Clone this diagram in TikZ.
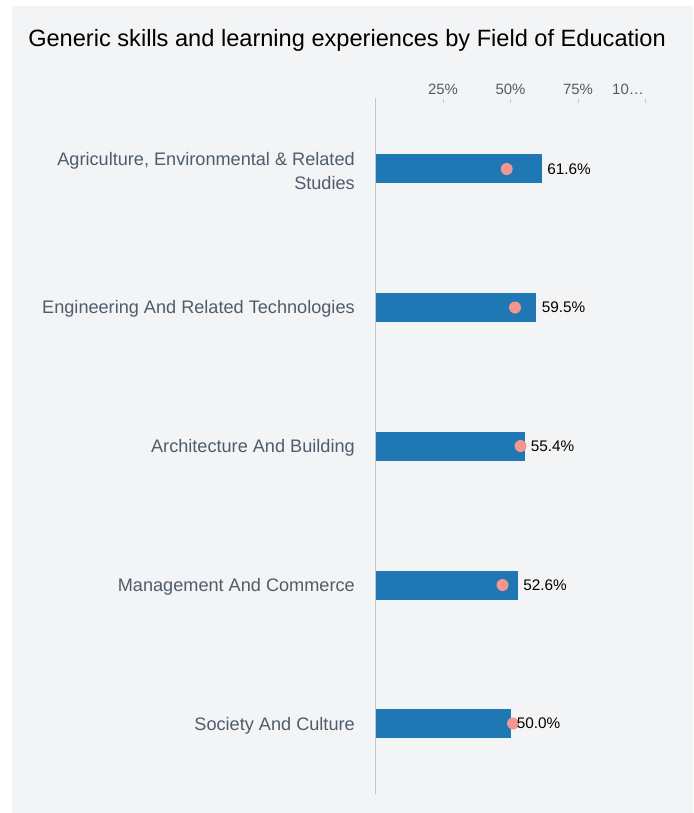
\documentclass[tikz,border=0pt]{standalone}
\usepackage{fontspec}
\setmainfont{Liberation Sans}
\definecolor{panelbg}{HTML}{F3F4F6}
\definecolor{barblue}{HTML}{1F77B4}
\definecolor{dotpink}{HTML}{F4958F}
\definecolor{labgrey}{HTML}{4E5D6A}
\definecolor{axisgrey}{HTML}{C4C6C8}
\newcommand{\barcol}{barblue}
\newcommand{\dotcol}{dotpink}

\begin{document}
\begin{tikzpicture}[x=0.75pt, y=-0.75pt,
    catlabel/.style={anchor=east, align=right, text=labgrey, font=\fontsize{13.6}{17.3}\selectfont, inner sep=0pt},
    vallabel/.style={anchor=west, font=\fontsize{11.5}{12}\selectfont, inner sep=0pt},
    ticklabel/.style={text=labgrey, font=\fontsize{11.2}{12}\selectfont, inner sep=0pt},
    barfill/.style={fill=\barcol},
    avgdot/.style={fill=\dotcol}]

    % panel
    \useasboundingbox (0, 0) rectangle (693, 813);
    \fill[panelbg] (12, 6) rectangle (693, 813);

    \node[anchor=base west, inner sep=0pt, font=\fontsize{17.7}{20}\selectfont] (title) at (28, 46.5) {Generic skills and learning experiences by Field of Education};

    % axis
    \draw[draw=axisgrey] (375.5, 98) -- (375.5, 794);
    \draw[draw=axisgrey] (443, 99) -- (443, 103);
    \draw[draw=axisgrey] (510.5, 99) -- (510.5, 103);
    \draw[draw=axisgrey] (578, 99) -- (578, 103);
    \draw[draw=axisgrey] (645.5, 99) -- (645.5, 103);

    \node[ticklabel] (t25) at (443, 89.5) {25\%};
    \node[ticklabel] (t50) at (510.5, 89.5) {50\%};
    \node[ticklabel] (t75) at (578, 89.5) {75\%};
    \node[ticklabel] (t100) at (628, 89.5) {10…};

    % bars
    \fill[barfill] (375.5, 154) rectangle (541.8, 183);
    \fill[barfill] (375.5, 293) rectangle (536.2, 322);
    \fill[barfill] (375.5, 432) rectangle (525.1, 461);
    \fill[barfill] (375.5, 571) rectangle (517.5, 600);
    \fill[barfill] (375.5, 709) rectangle (510.5, 738);

    \fill[avgdot] (506.7, 169) circle (6);
    \fill[avgdot] (515, 307.5) circle (6);
    \fill[avgdot] (520.5, 446) circle (6);
    \fill[avgdot] (502.5, 585) circle (6);
    \fill[avgdot] (513, 723.5) circle (6);

    \node[vallabel] (v1) at (547, 169) {61.6\%};
    \node[vallabel] (v2) at (541.5, 307.5) {59.5\%};
    \node[vallabel] (v3) at (530.5, 446.5) {55.4\%};
    \node[vallabel] (v4) at (523, 585) {52.6\%};
    \node[vallabel] (v5) at (516.5, 723.5) {50.0\%};

    % categories
    \node[catlabel] (c1) at (355, 171) {Agriculture, Environmental \& Related\\Studies};
    \node[catlabel] (c2) at (355, 309) {Engineering And Related Technologies};
    \node[catlabel] (c3) at (355, 448) {Architecture And Building};
    \node[catlabel] (c4) at (355, 587) {Management And Commerce};
    \node[catlabel] (c5) at (355, 725.5) {Society And Culture};

\end{tikzpicture}
\end{document}
